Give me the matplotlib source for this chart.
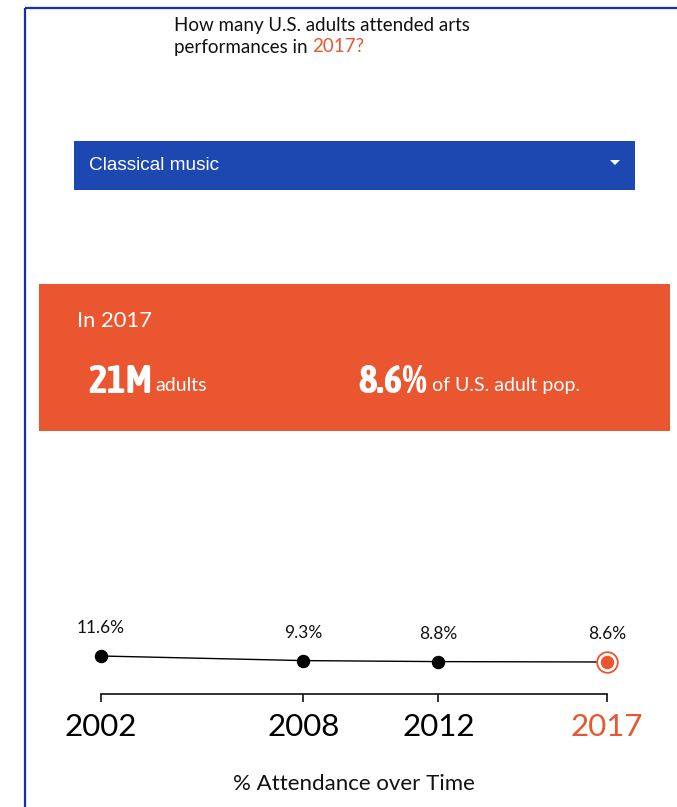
import matplotlib
matplotlib.use("Agg")
import matplotlib.pyplot as plt
from matplotlib import font_manager
from matplotlib.patches import Rectangle, Polygon

# data
years = [2002, 2008, 2012, 2017]
attendance = [11.6, 9.3, 8.8, 8.6]
year_labels = ["2002", "2008", "2012", "2017"]
title_lines = ["How many U.S. adults attended arts", "performances in "]
highlight_year = "2017"
genre = "Classical music"
adults_value = "21M"
pct_value = "8.6%"

W, H = 677, 807
ORANGE = "#e9562f"
BLUE = "#1d47b1"
FRAME = "#1a2bb5"

# pick a condensed bold face for the big numbers if one exists
cond_family = "DejaVu Sans"
cands = [f for f in font_manager.fontManager.ttflist
         if ("Narrow" in f.name or "Condensed" in f.name)]
bold = [f for f in cands if (f.weight if isinstance(f.weight, int) else 400) >= 600
        or str(f.weight) == "bold"]
if bold:
    cond_family = sorted(bold, key=lambda f: f.name)[0].name
elif cands:
    cond_family = sorted(cands, key=lambda f: f.name)[0].name

fig = plt.figure(figsize=(W / 100, H / 100), dpi=100)
bg = fig.add_axes([0, 0, 1, 1])
bg.set_xlim(0, W)
bg.set_ylim(H, 0)
bg.axis("off")

# frame (top and left edges only)
bg.plot([25, W], [8, 8], color=FRAME, lw=1.6, solid_capstyle="butt")
bg.plot([25, 25], [8, H], color=FRAME, lw=1.6, solid_capstyle="butt")


def after(txt, gap, y, s, **kw):
    # place a text right after another one on the same line
    fig.canvas.draw()
    x = txt.get_window_extent().x1 + gap
    return bg.annotate(s, xy=(0, 0), xycoords="figure pixels", xytext=(x, H - y),
                       textcoords="figure pixels", **kw)


# question
bg.text(174, 25, title_lines[0], fontsize=13.5, family="Lato", va="center", color="#111111")
t = bg.text(174, 47, title_lines[1], fontsize=13.5, family="Lato", va="center", color="#111111")
after(t, 0, 47, highlight_year + "?", fontsize=13.5, family="Lato", va="center", color=ORANGE)

# dropdown
bg.add_patch(Rectangle((74, 141), 561, 49, color=BLUE, lw=0))
bg.text(89, 165, genre, fontsize=13.7, family="Liberation Sans", va="center", color="white")
bg.add_patch(Polygon([[610, 160], [620, 160], [615, 165]], closed=True, color="white", lw=0))

# orange summary box
bg.add_patch(Rectangle((39, 284), 631, 147, color=ORANGE, lw=0))
bg.text(77, 321, "In " + highlight_year, fontsize=15.8, family="Lato", va="center", color="white")
a = bg.text(88, 393, adults_value, fontsize=28.5, family=cond_family, weight="bold",
            va="baseline", color="white")
after(a, 3, 391, "adults", fontsize=14, family="Lato", va="baseline", color="white")
p = bg.text(358, 393, pct_value, fontsize=28.5, family=cond_family, weight="bold",
            va="baseline", color="white")
after(p, 5, 391, "of U.S. adult pop.", fontsize=14, family="Lato", va="baseline",
      color="white")

# line chart: axis line at y=694 px, x from 101 to 607 px
ax_bottom, ax_top = 694, 600
ax = fig.add_axes([101 / W, (H - ax_bottom) / H, 506 / W, (ax_bottom - ax_top) / H])
ax.set_xlim(years[0], years[-1])
# 2 px per percentage point, 8.6 sits at y=662
ref_y, ref_v, ppu = 662, 8.6, 2.0
ax.set_ylim(ref_v - (ax_bottom - ref_y) / ppu, ref_v + (ref_y - ax_top) / ppu)
ax.patch.set_alpha(0)
for s in ["top", "left", "right"]:
    ax.spines[s].set_visible(False)
ax.spines["bottom"].set_linewidth(1.2)
ax.spines["bottom"].set_color("#111111")
ax.set_yticks([])
ax.set_xticks(years)
ax.set_xticklabels(year_labels, fontsize=22.5, family="Lato")
ax.tick_params(axis="x", length=6, width=1.2, color="#111111", pad=8)
ax.get_xticklabels()[-1].set_color(ORANGE)

ax.plot(years, attendance, color="black", lw=1, clip_on=False, zorder=2)
ax.scatter(years[:-1], attendance[:-1], s=75, color="black", clip_on=False, zorder=3)
ax.scatter(years[-1:], attendance[-1:], s=220, facecolor="white", edgecolor=ORANGE,
           linewidth=1.3, clip_on=False, zorder=3)
ax.scatter(years[-1:], attendance[-1:], s=75, color=ORANGE, clip_on=False, zorder=4)
for x, v in zip(years, attendance):
    ax.annotate(f"{v}%", (x, v), xytext=(0, 20), textcoords="offset points", ha="center",
                va="center", fontsize=12.5, family="Lato", color="#111111")

bg.text(354, 784, "% Attendance over Time", fontsize=16, family="Lato", ha="center",
        va="center", color="#111111")

fig.savefig("out.png", dpi=100)
